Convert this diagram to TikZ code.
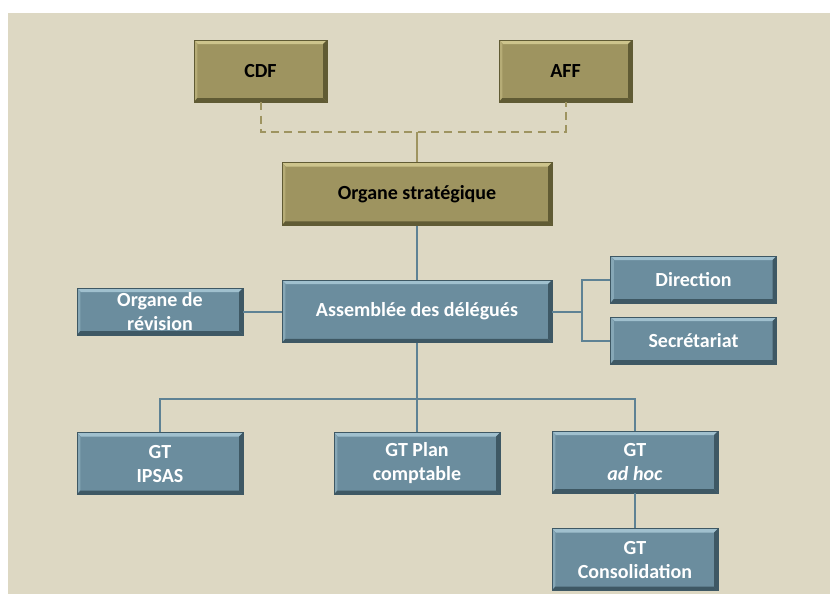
\documentclass[tikz,border=0pt]{standalone}
\usepackage{fontspec}
\setmainfont{Carlito}
\usetikzlibrary{arrows.meta}

\definecolor{beige}{RGB}{221,216,195}
\definecolor{olivefill}{RGB}{158,148,96}
\definecolor{olivelight}{RGB}{205,196,140}
\definecolor{olivedark}{RGB}{96,91,52}
\definecolor{bluefill}{RGB}{107,141,158}
\definecolor{bluelight}{RGB}{160,192,206}
\definecolor{bluedark}{RGB}{62,88,100}
\definecolor{lineblue}{RGB}{94,130,148}

\tikzset{
  bevel/.style n args={3}{fill=#1, draw=#3, line width=0.6pt, inner sep=0pt, align=center,
    path picture={
      \fill[#2] (path picture bounding box.north west) -- (path picture bounding box.north east)
        -- ([shift={(-3pt,-3pt)}]path picture bounding box.north east)
        -- ([shift={(3pt,-3pt)}]path picture bounding box.north west) -- cycle;
      \fill[#2!50!#1] (path picture bounding box.north west) -- (path picture bounding box.south west)
        -- ([shift={(2.5pt,3pt)}]path picture bounding box.south west)
        -- ([shift={(2.5pt,-3pt)}]path picture bounding box.north west) -- cycle;
      \fill[#3] (path picture bounding box.south west) -- (path picture bounding box.south east)
        -- ([shift={(-3pt,3pt)}]path picture bounding box.south east)
        -- ([shift={(2.5pt,3pt)}]path picture bounding box.south west) -- cycle;
      \fill[#3] (path picture bounding box.north east) -- (path picture bounding box.south east)
        -- ([shift={(-3pt,3pt)}]path picture bounding box.south east)
        -- ([shift={(-3pt,-3pt)}]path picture bounding box.north east) -- cycle;
    }},
  olivebox/.style={bevel={olivefill}{olivelight}{olivedark}, text=black},
  bluebox/.style={bevel={bluefill}{bluelight}{bluedark}, text=white},
  wide/.style={minimum width=202.5pt, minimum height=47pt},
  small/.style={minimum width=124.5pt, minimum height=35.25pt},
  gtbox/.style={minimum width=124.5pt, minimum height=46.5pt},
  blueline/.style={draw=lineblue, line width=1.5pt},
  oliveline/.style={draw=olivefill, line width=1.5pt}
}

\begin{document}
\begin{tikzpicture}[x=0.75pt, y=-0.75pt, font=\fontsize{15}{18}\selectfont\bfseries]
\useasboundingbox (0,0) rectangle (830,594);
\fill[white] (0,0) rectangle (830,594);
\fill[beige] (8,13) rectangle (830,594);

\begin{scope}
    \node[olivebox, minimum width=99.75pt, minimum height=46.5pt] (CDF) at (260.5,71) {CDF};
    \node[olivebox, minimum width=99.75pt, minimum height=46.5pt] (AFF) at (565.5,71) {AFF};
    \node[olivebox, wide] (strat) at (417,194) {Organe stratégique};

    \node[bluebox, wide] (asm) at (417,311.5) {Assemblée des délégués};
    \node[bluebox, small] (rev) at (160,311.5) {Organe de\\révision};
    \node[bluebox, small] (dir) at (693.5,279.5) {Direction};
    \node[bluebox, small] (sec) at (693.5,340.5) {Secrétariat};

    \node[bluebox, gtbox] (ipsas) at (160,463.5) {GT\\IPSAS};
    \node[bluebox, gtbox] (plan) at (417,463.5) {GT Plan\\comptable};
    \node[bluebox, gtbox] (adhoc) at (635,462) {GT\\\textit{ad hoc}};
    \node[bluebox, gtbox] (cons) at (635,559.5) {GT\\Consolidation};

    \coordinate (join) at (417,132);
    \coordinate (fork) at (582,311.5);
    \coordinate (bus) at (417,399);
\end{scope}

\begin{scope}[every edge/.style={blueline}]
    \path [-] (strat) edge (asm);
    \path [-] (rev) edge (asm);
    \path [-] (asm) edge (fork);
    \path [-] (asm.south) edge (plan.north);
    \path [-] (adhoc) edge (cons);
\end{scope}
\draw[blueline] (dir.west) -| (fork) |- (sec.west);
\draw[blueline] (ipsas.north) |- (bus) -| (adhoc.north);
\draw[oliveline, dash pattern=on 6pt off 4pt] (CDF.south) |- (join) -| (AFF.south);
\draw[oliveline] (join) -- (strat.north);
\end{tikzpicture}
\end{document}
